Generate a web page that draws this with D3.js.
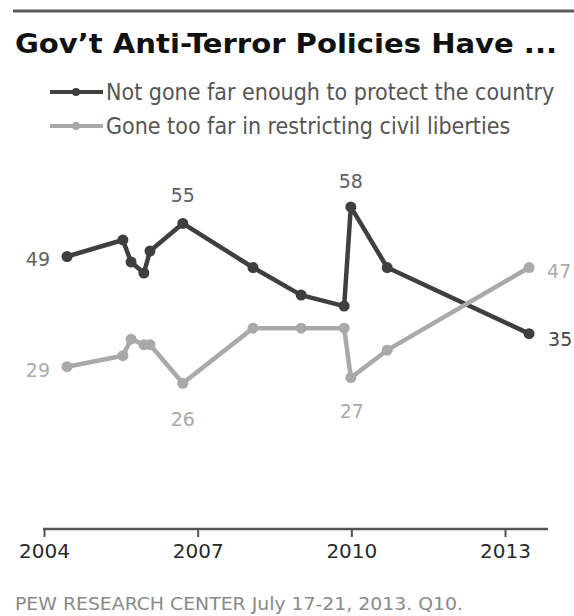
<html>

<head>
    <title>Gov't Anti-Terror Policies</title>
    <meta charset="utf-8" />
    <script src="https://cdn.jsdelivr.net/npm/d3@7/dist/d3.min.js" type="text/JavaScript"></script>
</head>
<style>
    body {
        margin: 0;
        background: #fff;
    }
    svg {
        font-family: "DejaVu Sans Condensed", "DejaVu Sans", sans-serif;
    }
</style>

<body>
    <div id="viz"></div>
</body>
<footer>

    <script>
        // survey dates (decimal years) and percentages
        var dates = [2004.45, 2005.54, 2005.70, 2005.95, 2006.07, 2006.71, 2008.08, 2009.02, 2009.86, 2009.99, 2010.70, 2013.47];
        var notFarEnough = [49, 52, 48, 46, 50, 55, 47, 42, 40, 58, 47, 35];
        var tooFar = [29, 31, 34, 33, 33, 26, 36, 36, 36, 27, 32, 47];
        var tickYears = [2004, 2007, 2010, 2013];
        var seriesNames = ["Not gone far enough to protect the country", "Gone too far in restricting civil liberties"];
        var colors = ["#3f3f3f", "#a9a9a9"];
        var labelColors = ["#606060", "#aaa"];

        var svg = d3.select("#viz").append("svg")
            .attr("width", 574)
            .attr("height", 616);

        var x = d3.scaleLinear().domain([2004, 2013]).range([44, 505]);
        var y = d3.scaleLinear().domain([0, 70]).range([526.5, 140.8]);

        // top rule + title
        svg.append("line")
            .attr("x1", 13).attr("x2", 574)
            .attr("y1", 11).attr("y2", 11)
            .style("stroke", "#5a5a5a").style("stroke-width", 3);

        svg.append("text")
            .attr("x", 15).attr("y", 53)
            .attr("textLength", 542).attr("lengthAdjust", "spacingAndGlyphs")
            .style("font-size", "27px").style("font-weight", "bold").style("fill", "#111")
            .text("Gov\u2019t Anti-Terror Policies Have ...");

        // legend
        var legend = svg.append("g").selectAll("g")
            .data(seriesNames)
            .enter()
            .append("g")
            .attr("transform", function(d, i) {
                return "translate(0," + (92 + i * 34) + ")"
            });
        legend.append("line")
            .attr("x1", 50).attr("x2", 103)
            .style("stroke", function(d, i) { return colors[i] })
            .style("stroke-width", 4);
        legend.append("circle")
            .attr("cx", 76).attr("r", 4)
            .style("fill", function(d, i) { return colors[i] });
        legend.append("text")
            .attr("x", 106).attr("y", 8)
            .style("font-size", "23px").style("fill", "#555")
            .text(function(d) { return d });

        // axis
        var axis = d3.axisBottom(x)
            .tickValues(tickYears)
            .tickFormat(d3.format("d"))
            .tickSize(8)
            .tickSizeOuter(0);
        var gAxis = svg.append("g")
            .attr("transform", "translate(0,529)")
            .call(axis);
        gAxis.select(".domain").remove();
        gAxis.insert("line", ":first-child")
            .attr("x1", 43).attr("x2", 548)
            .style("stroke", "#555").style("stroke-width", 2.5);
        gAxis.selectAll(".tick line").style("stroke", "#555").style("stroke-width", 2);
        gAxis.selectAll(".tick text")
            .attr("y", 29)
            .attr("dy", 0)
            .style("font-family", "\"DejaVu Sans\", sans-serif")
            .style("font-size", "20px").style("fill", "#2a2a2a");

        // lines
        var series = [notFarEnough, tooFar];
        var line = d3.line()
            .x(function(d, i) { return x(dates[i]) })
            .y(function(d) { return y(d) });

        var gSeries = svg.selectAll("g.series")
            .data(series)
            .enter()
            .append("g")
            .classed("series", true);
        gSeries.append("path")
            .attr("d", function(d) { return line(d) })
            .style("fill", "none")
            .style("stroke", function(d, i) { return colors[i] })
            .style("stroke-width", 4.5)
            .style("stroke-linejoin", "round");
        gSeries.each(function(d, i) {
            d3.select(this).selectAll("circle")
                .data(d)
                .enter()
                .append("circle")
                .attr("cx", function(v, j) { return x(dates[j]) })
                .attr("cy", function(v) { return y(v) })
                .attr("r", 5.5)
                .style("fill", colors[i]);
        });

        // value labels: [series, point index, dx, dy, anchor]
        var labels = [
            [0, 0, -17, 9, "end"],
            [0, 5, 0, -21, "middle"],
            [0, 9, 0, -19, "middle"],
            [0, 11, 19, 12, "start"],
            [1, 0, -17, 10, "end"],
            [1, 5, 0, 43, "middle"],
            [1, 9, 1, 40, "middle"],
            [1, 11, 18, 10, "start"]
        ];
        svg.append("g").selectAll("text")
            .data(labels)
            .enter()
            .append("text")
            .attr("x", function(d) { return x(dates[d[1]]) + d[2] })
            .attr("y", function(d) { return y(series[d[0]][d[1]]) + d[3] })
            .attr("text-anchor", function(d) { return d[4] })
            .style("font-family", "\"DejaVu Sans\", sans-serif")
            .style("font-size", "19px")
            .style("fill", function(d) { return d[0] == 1 ? labelColors[1] : (d[1] == 11 ? "#444" : labelColors[0]) })
            .text(function(d) { return series[d[0]][d[1]] });

        // source
        svg.append("text")
            .attr("x", 15).attr("y", 610)
            .attr("textLength", 448).attr("lengthAdjust", "spacingAndGlyphs")
            .style("font-size", "17px").style("fill", "#8a8a8a")
            .text("PEW RESEARCH  CENTER July 17-21, 2013. Q10.");
    </script>
</footer>

</html>
